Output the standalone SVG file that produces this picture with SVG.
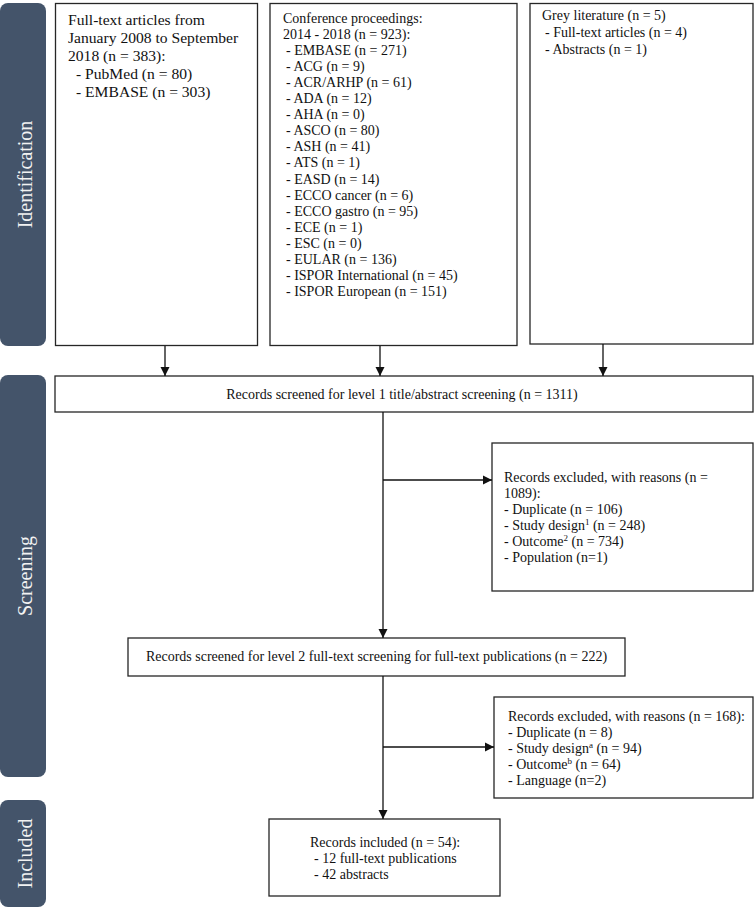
<svg xmlns="http://www.w3.org/2000/svg" width="756" height="908" viewBox="0 0 756 908">
<style>
.panel{fill:#44546a}
.plabel{fill:#f2f2f2;font-family:"Liberation Serif","Times New Roman",serif;font-size:20px;text-anchor:middle}
.box{fill:#ffffff;stroke:#262626;stroke-width:1.3}
.t{font-family:"Liberation Serif","Times New Roman",serif;font-size:14px;fill:#111}
.tl{font-family:"Liberation Serif","Times New Roman",serif;font-size:15.6px;fill:#111}
.c{text-anchor:middle}
.ln{fill:none;stroke:#111;stroke-width:1.3}
.sup{font-size:9px}
</style>
<defs>
<marker id="ah" viewBox="0 0 10 10" refX="10" refY="5" markerWidth="9" markerHeight="10" markerUnits="userSpaceOnUse" orient="auto">
<path d="M0,0 L10,5 L0,10 z" fill="#111"/>
</marker>
</defs>
<rect x="0" y="0" width="756" height="908" fill="#ffffff"/>

<g id="phase-identification">
<rect class="panel" x="0" y="3" width="46" height="343" rx="8"/>
<text class="plabel" transform="translate(32,174.5) rotate(-90)">Identification</text>
</g>
<g id="phase-screening">
<rect class="panel" x="0" y="375" width="46" height="402" rx="8"/>
<text class="plabel" transform="translate(32,576) rotate(-90)">Screening</text>
</g>
<g id="phase-included">
<rect class="panel" x="0" y="800" width="46" height="107" rx="8"/>
<text class="plabel" transform="translate(32,853.5) rotate(-90)">Included</text>
</g>

<g id="node-fulltext">
<rect class="box" x="55.5" y="3.5" width="202" height="342"/>
<text class="tl" x="68" y="25">Full-text articles from</text>
<text class="tl" x="68" y="43">January 2008 to September</text>
<text class="tl" x="68" y="61">2018 (n = 383):</text>
<text class="tl" x="76" y="79">- PubMed (n = 80)</text>
<text class="tl" x="76" y="97">- EMBASE (n = 303)</text>
</g>

<g id="node-conference">
<rect class="box" x="270" y="3.5" width="247" height="342"/>
<text class="t" x="283" y="22.7">Conference proceedings:</text>
<text class="t" x="283" y="38.8">2014 - 2018 (n = 923):</text>
<text class="t" x="286" y="54.9">- EMBASE (n = 271)</text>
<text class="t" x="286" y="70.9">- ACG (n = 9)</text>
<text class="t" x="286" y="87">- ACR/ARHP (n = 61)</text>
<text class="t" x="286" y="103.1">- ADA (n = 12)</text>
<text class="t" x="286" y="119.2">- AHA (n = 0)</text>
<text class="t" x="286" y="135.3">- ASCO (n = 80)</text>
<text class="t" x="286" y="151.3">- ASH (n = 41)</text>
<text class="t" x="286" y="167.4">- ATS (n = 1)</text>
<text class="t" x="286" y="183.5">- EASD (n = 14)</text>
<text class="t" x="286" y="199.6">- ECCO cancer (n = 6)</text>
<text class="t" x="286" y="215.7">- ECCO gastro (n = 95)</text>
<text class="t" x="286" y="231.7">- ECE (n = 1)</text>
<text class="t" x="286" y="247.8">- ESC (n = 0)</text>
<text class="t" x="286" y="263.9">- EULAR (n = 136)</text>
<text class="t" x="286" y="280">- ISPOR International (n = 45)</text>
<text class="t" x="286" y="296">- ISPOR European (n = 151)</text>
</g>

<g id="node-grey">
<rect class="box" x="530" y="3.5" width="223" height="340.5"/>
<text class="t" x="542" y="20">Grey literature (n = 5)</text>
<text class="t" x="545" y="37">- Full-text articles (n = 4)</text>
<text class="t" x="545" y="54">- Abstracts (n = 1)</text>
</g>

<g id="node-screen1">
<rect class="box" x="55" y="376" width="698" height="36"/>
<text class="t c" x="402" y="399">Records screened for level 1 title/abstract screening (n = 1311)</text>
</g>

<g id="node-excluded1">
<rect class="box" x="492" y="443" width="261" height="148"/>
<text class="t" x="504" y="482">Records excluded, with reasons (n =</text>
<text class="t" x="504" y="498">1089):</text>
<text class="t" x="504" y="514">- Duplicate (n = 106)</text>
<text class="t" x="504" y="530">- Study design<tspan class="sup" dy="-5">1</tspan><tspan dy="5"> (n = 248)</tspan></text>
<text class="t" x="504" y="546">- Outcome<tspan class="sup" dy="-5">2</tspan><tspan dy="5"> (n = 734)</tspan></text>
<text class="t" x="504" y="562">- Population (n=1)</text>
</g>

<g id="node-screen2">
<rect class="box" x="128" y="638" width="497" height="38"/>
<text class="t c" x="376.5" y="661">Records screened for level 2 full-text screening for full-text publications (n = 222)</text>
</g>

<g id="node-excluded2">
<rect class="box" x="494" y="697" width="259" height="101"/>
<text class="t" x="508" y="721">Records excluded, with reasons (n = 168):</text>
<text class="t" x="508" y="737">- Duplicate (n = 8)</text>
<text class="t" x="508" y="753">- Study design<tspan class="sup" dy="-5">a</tspan><tspan dy="5"> (n = 94)</tspan></text>
<text class="t" x="508" y="769">- Outcome<tspan class="sup" dy="-5">b</tspan><tspan dy="5"> (n = 64)</tspan></text>
<text class="t" x="508" y="785">- Language (n=2)</text>
</g>

<g id="node-included">
<rect class="box" x="269" y="819" width="231" height="77"/>
<text class="t" x="310" y="847">Records included (n = 54):</text>
<text class="t" x="314" y="863">- 12 full-text publications</text>
<text class="t" x="314" y="879">- 42 abstracts</text>
</g>

<g id="connectors">
<line class="ln" x1="165" y1="346" x2="165" y2="376" marker-end="url(#ah)"/>
<line class="ln" x1="380" y1="346" x2="380" y2="376" marker-end="url(#ah)"/>
<line class="ln" x1="603" y1="344" x2="603" y2="376" marker-end="url(#ah)"/>
<line class="ln" x1="383" y1="412" x2="383" y2="638" marker-end="url(#ah)"/>
<line class="ln" x1="383" y1="480" x2="492" y2="480" marker-end="url(#ah)"/>
<line class="ln" x1="383" y1="676" x2="383" y2="819" marker-end="url(#ah)"/>
<line class="ln" x1="383" y1="747" x2="494" y2="747" marker-end="url(#ah)"/>
</g>
</svg>
